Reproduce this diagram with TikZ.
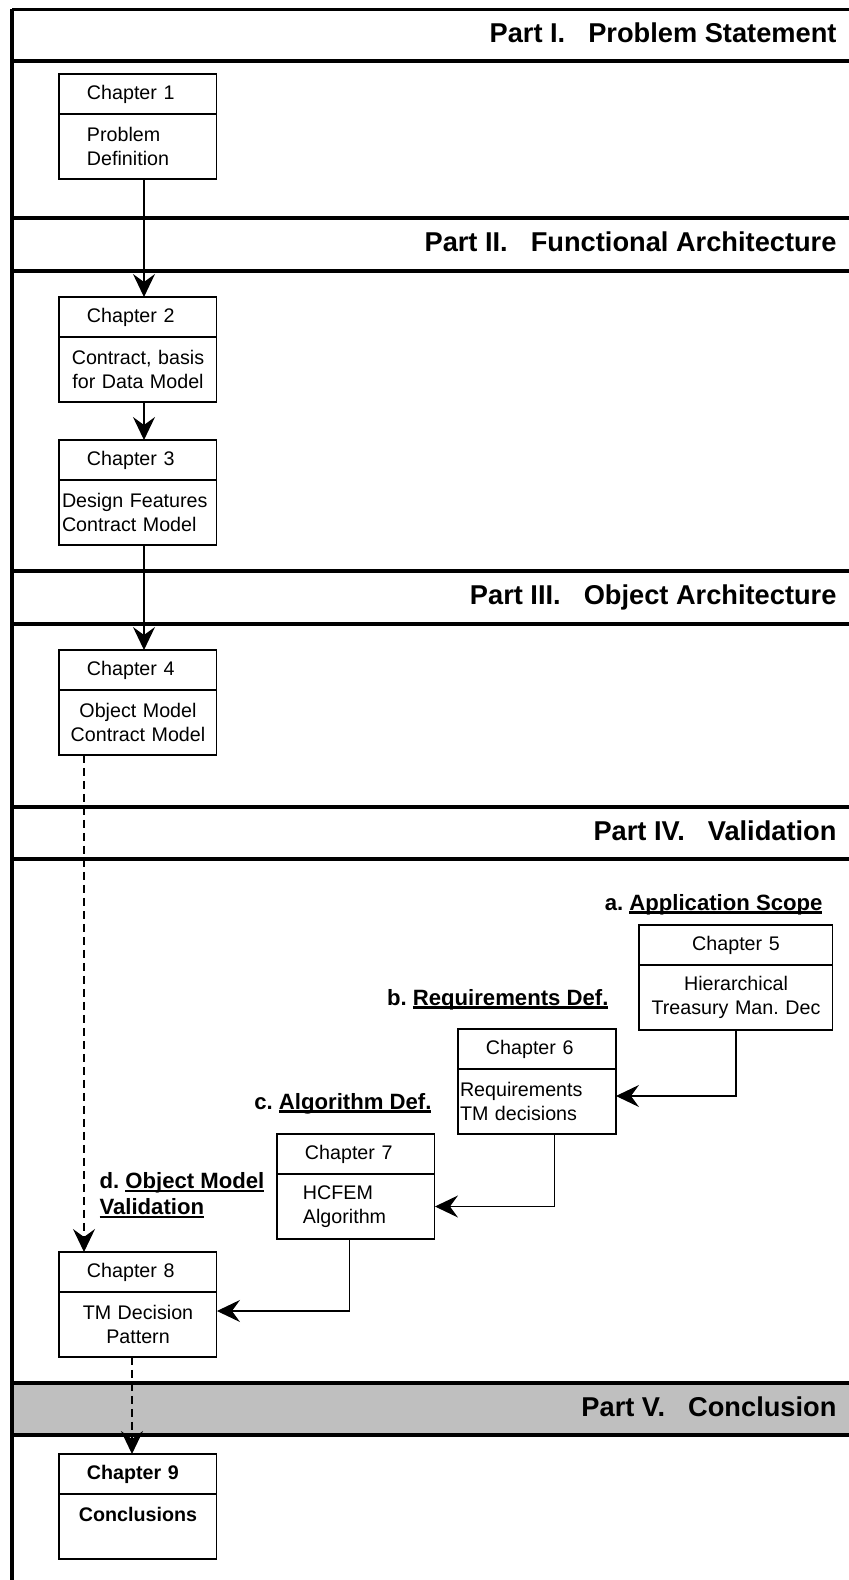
\documentclass[tikz,border=0pt]{standalone}
\usepackage{fontspec}
\setmainfont{Liberation Sans}
\usetikzlibrary{arrows.meta,positioning}
\frenchspacing

\newcommand{\ulbold}[1]{\leavevmode\setbox0=\hbox{#1}\rlap{\rule[-2.2pt]{\wd0}{1.6pt}}\box0}

\begin{document}
\begin{tikzpicture}[x=0.02cm, y=-0.02cm,
            >={Stealth[length=0.46cm,width=0.44cm,inset=0.16cm]},
            semithick,
            border/.style={line width=1.8pt},
            parthead/.style={anchor=base east, inner sep=0pt,
                             font=\bfseries\fontsize{15.5}{18}\selectfont},
            chaptitle/.style={draw, fill=white, outer sep=0pt, minimum height=0.8cm,
                              text width=2.04cm, inner xsep=0.56cm, inner ysep=0pt,
                              align=left, font=\fontsize{11.2}{13.3}\selectfont},
            chapbody/.style={draw, fill=white, outer sep=0pt, minimum height=1.3cm,
                             text width=3.16cm, inner xsep=0pt, align=center,
                             font=\fontsize{11.2}{13.3}\selectfont},
            phase/.style={inner sep=0pt, font=\bfseries\fontsize{12.6}{14.8}\selectfont},
            dashedarrow/.style={->, dash pattern=on 0.16cm off 0.1cm}]

    \useasboundingbox (0,0) rectangle (849,1580);

    \fill[black!25] (12,1383) rectangle (849,1435);
    \foreach \y in {9.5,61,218,271,571,624,807,859,1383,1435}
        \draw[border] (12,\y) -- (849,\y);
    \draw[line width=2.2pt] (12,8.6) -- (12,1580);

    \node[parthead] (p1) at (837,42)   {Part I.\hspace{0.46cm}Problem Statement};
    \node[parthead] (p2) at (837,251)  {Part II.\hspace{0.46cm}Functional Architecture};
    \node[parthead] (p3) at (837,604)  {Part III.\hspace{0.46cm}Object Architecture};
    \node[parthead] (p4) at (837,840)  {Part IV.\hspace{0.46cm}Validation};
    \node[parthead] (p5) at (837,1416) {Part V.\hspace{0.46cm}Conclusion};

    \node[chaptitle, anchor=north west] (t1) at (59,74) {Chapter 1};
    \node[chapbody, below=0pt of t1, align=left, text width=2.04cm, inner xsep=0.56cm] (c1)
        {Problem\\Definition};

    \node[chaptitle, anchor=north west] (t2) at (59,297) {Chapter 2};
    \node[chapbody, below=0pt of t2] (c2) {Contract, basis\\for Data Model};

    \node[chaptitle, anchor=north west] (t3) at (59,440) {Chapter 3};
    \node[chapbody, below=0pt of t3, align=left, text width=3.04cm, inner xsep=0.06cm] (c3)
        {Design Features\\Contract Model};

    \node[chaptitle, anchor=north west] (t4) at (59,650) {Chapter 4};
    \node[chapbody, below=0pt of t4] (c4) {Object Model\\Contract Model};

    \node[chaptitle, anchor=north west, align=center, text width=2.76cm] (t5) at (639,925) {Chapter 5};
    \node[chapbody, below=0pt of t5, text width=3.88cm] (c5) {Hierarchical\\Treasury Man. Dec};

    \node[chaptitle, anchor=north west] (t6) at (458,1029) {Chapter 6};
    \node[chapbody, below=0pt of t6, align=left, text width=3.08cm, inner xsep=0.04cm] (c6)
        {Requirements\\TM decisions};

    \node[chaptitle, anchor=north west] (t7) at (277,1134) {Chapter 7};
    \node[chapbody, below=0pt of t7, align=left, text width=2.12cm, inner xsep=0.52cm] (c7)
        {HCFEM\\Algorithm};

    \node[chaptitle, anchor=north west] (t8) at (59,1252) {Chapter 8};
    \node[chapbody, below=0pt of t8] (c8) {TM Decision\\Pattern};

    \node[chaptitle, anchor=north west, font=\bfseries\fontsize{11.2}{13.3}\selectfont] (t9)
        at (59,1454) {Chapter 9};
    \node[chapbody, below=0pt of t9, font=\bfseries\fontsize{11.2}{13.3}\selectfont] (c9)
        {Conclusions\\\mbox{}};

    \node[phase, anchor=base east] (la) at (823,910)  {a. \ulbold{Application Scope}};
    \node[phase, anchor=base east] (lb) at (609,1005) {b. \ulbold{Requirements Def.}};
    \node[phase, anchor=base east] (lc) at (432,1109) {c. \ulbold{Algorithm Def.}};
    \node[phase, anchor=north west, align=left] (ld) at (99,1172)
        {d. \ulbold{Object Model}\\\ulbold{Validation}};

    \draw[->] ([xshift=0.12cm]c1.south) -- ([xshift=0.12cm]t2.north);
    \draw[->] ([xshift=0.12cm]c2.south) -- ([xshift=0.12cm]t3.north);
    \draw[->] ([xshift=0.12cm]c3.south) -- ([xshift=0.12cm]t4.north);
    \draw[dashedarrow] ([xshift=-1.08cm]c4.south) -- ([xshift=-1.08cm]t8.north);
    \draw[->] (c5.south) |- ([yshift=0.11cm]c6.east);
    \draw[->] ([xshift=0.35cm]c6.south) |- (c7.east);
    \draw[->] ([xshift=-0.13cm]c7.south) |- ([yshift=0.27cm]c8.east);
    \draw[dashedarrow] ([xshift=-0.12cm]c8.south) -- ([xshift=-0.12cm]t9.north);

\end{tikzpicture}
\end{document}
